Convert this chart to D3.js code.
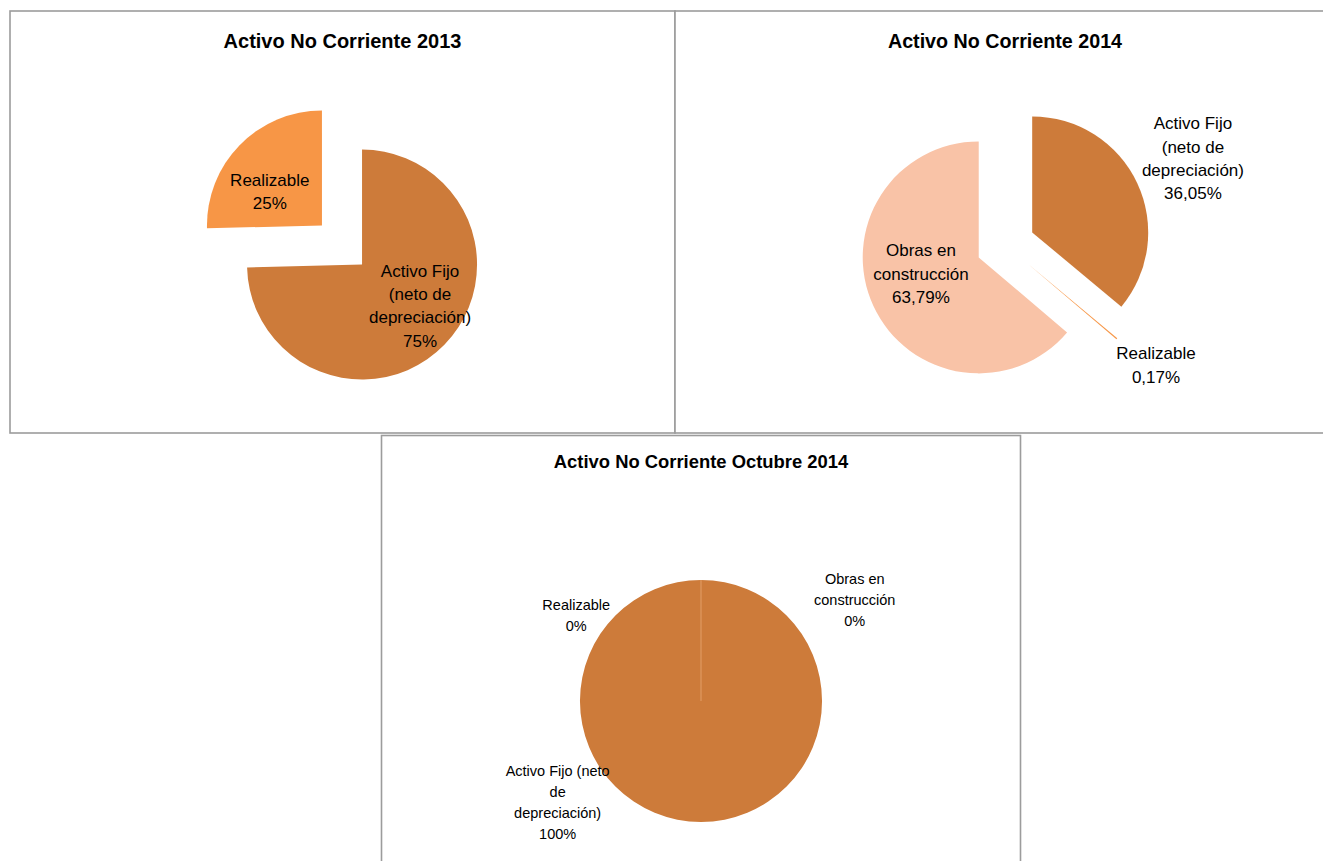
<!DOCTYPE html>
<html>
<head>
<meta charset="utf-8">
<script src="https://cdn.jsdelivr.net/npm/d3@7/dist/d3.min.js"></script>
<style>
  body { margin: 0; background: #fff; }
  text { font-family: "Liberation Sans", Arial, sans-serif; fill: #000; }
</style>
</head>
<body>
<script>
// chart data
var CATS_2014 = ["Activo Fijo (neto de depreciación)", "Realizable", "Obras en construcción"];
var CATS_2013 = ["Activo Fijo (neto de depreciación)", "Realizable"];
var VALS_2013 = [74.6, 25.4];
var VALS_2014 = [36.05, 0.17, 63.79];
var VALS_OCT_2014 = [100, 0, 0];
var TITLES = ["Activo No Corriente 2013", "Activo No Corriente 2014", "Activo No Corriente Octubre 2014"];
// how Excel wrapped the category labels in each chart ("|" = line break)
var WRAP_2013 = ["Activo Fijo|(neto de|depreciación)", "Realizable"];
var WRAP_2014 = ["Activo Fijo|(neto de|depreciación)", "Realizable", "Obras en|construcción"];
var WRAP_OCT_2014 = ["Activo Fijo (neto|de|depreciación)", "Realizable", "Obras en|construcción"];

var COLORS = {
    "Activo Fijo (neto de depreciación)": "#CD7B3A",
    "Realizable": "#F79646",
    "Obras en construcción": "#F9C3A7"
};

var W = 1323, H = 861;
var esLocale = d3.formatLocale({ decimal: ",", thousands: ".", grouping: [3], currency: ["", "€"] });

// layout of the three chart boxes (label spots are [angle deg, radius factor] from pie centre)
var panels = [
    { title: TITLES[0], cats: CATS_2013, vals: VALS_2013, wrap: WRAP_2013, fmt: ".0f",
      box: [10, 11, 665, 422], titleY: 48, titleSize: 20,
      cx: 342, cy: 245, r: 115, explode: 28,
      fontSize: 17, lineH: 23.3,
      labelPos: [[127.9, 0.86], [306.4, 0.78]] },
    { title: TITLES[1], cats: CATS_2014, vals: VALS_2014, wrap: WRAP_2014, fmt: ".2f",
      box: [675, 11, 660, 422], titleY: 48, titleSize: 19.7,
      cx: 1005.5, cy: 245, r: 116, explode: 29.5,
      fontSize: 17, lineH: 23.3,
      labelPos: [[65.2, 1.78], [128.6, 1.66], [251.2, 0.77]] },
    { title: TITLES[2], cats: CATS_2014, vals: VALS_OCT_2014, wrap: WRAP_OCT_2014, fmt: ".0f",
      box: [381.5, 435.5, 639, 500], titleY: 468, titleSize: 18.4,
      cx: 701, cy: 701, r: 121, explode: 0,
      fontSize: 14.5, lineH: 21,
      labelPos: [[234.8, 1.45], [304.4, 1.25], [56.7, 1.52]] }
];

var svg = d3.select("body")
    .append("svg")
    .attr("width", W)
    .attr("height", H);

function drawPanel(p) {
    var g = svg.append("g");

    g.append("rect")
        .attr("x", p.box[0])
        .attr("y", p.box[1])
        .attr("width", p.box[2])
        .attr("height", p.box[3])
        .attr("fill", "#fff")
        .attr("stroke", "#9c9c9c")
        .attr("stroke-width", 1.6);

    g.append("text")
        .attr("x", p.box[0] + p.box[2] / 2)
        .attr("y", p.titleY)
        .attr("text-anchor", "middle")
        .style("font-weight", "bold")
        .style("font-size", p.titleSize + "px")
        .text(p.title);

    var data = p.cats.map(function(c, i) { return { cat: c, value: p.vals[i], wrap: p.wrap[i], pos: p.labelPos[i] }; });

    var pie = d3.pie()
        .sort(null)
        .value(function(d) { return d.value; });

    var arc = d3.arc()
        .innerRadius(0)
        .outerRadius(p.r);

    var arcs = pie(data);

    var pieG = g.append("g")
        .attr("transform", "translate(" + p.cx + "," + p.cy + ")");

    pieG.selectAll(".slice")
        .data(arcs)
        .enter().append("path")
        .attr("class", "slice")
        .attr("d", arc)
        .attr("transform", function(d) {
            var mid = (d.startAngle + d.endAngle) / 2;
            return "translate(" + (p.explode * Math.sin(mid)) + "," + (-p.explode * Math.cos(mid)) + ")";
        })
        .attr("fill", function(d) { return COLORS[d.data.cat]; })
        // zero slices still leave a faint seam line in Excel
        .attr("stroke", function(d) { return d.data.value === 0 ? "#D98F55" : "none"; })
        .attr("stroke-width", 0.8);

    var fmt = esLocale.format(p.fmt);

    var labels = pieG.selectAll(".lbl")
        .data(arcs)
        .enter().append("text")
        .attr("class", "lbl")
        .attr("text-anchor", "middle")
        .style("font-size", p.fontSize + "px");

    labels.each(function(d) {
        var a = d.data.pos[0] * Math.PI / 180;
        var lx = p.r * d.data.pos[1] * Math.sin(a);
        var ly = -p.r * d.data.pos[1] * Math.cos(a);
        var lines = d.data.wrap.split("|").concat([fmt(d.data.value) + "%"]);
        var y0 = ly - (lines.length - 1) * p.lineH / 2 + p.fontSize * 0.35;
        var t = d3.select(this);
        lines.forEach(function(s, i) {
            t.append("tspan")
                .attr("x", lx)
                .attr("y", y0 + i * p.lineH)
                .text(s);
        });
    });
}

panels.forEach(drawPanel);
</script>
</body>
</html>
